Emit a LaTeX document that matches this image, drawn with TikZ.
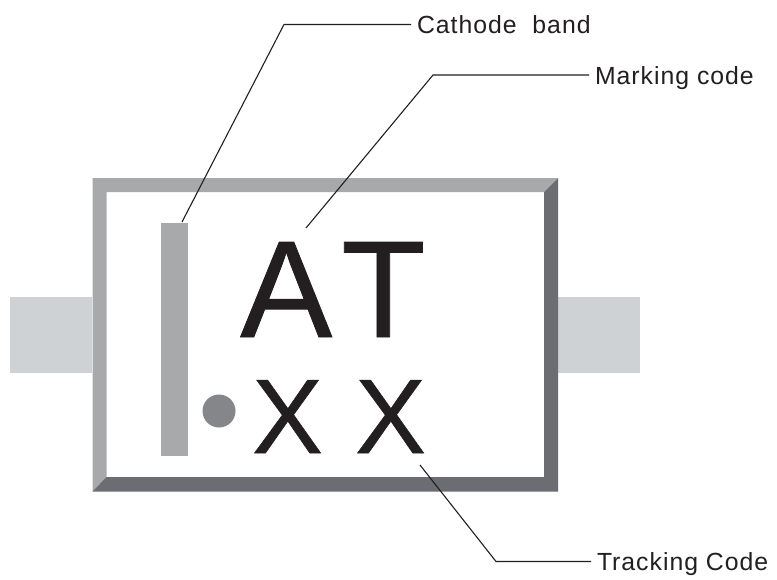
\documentclass[tikz,border=0pt]{standalone}
\usepackage{fontspec}
\setmainfont{Liberation Sans}
\newfontfamily\labelfont[LetterSpace=4]{Liberation Sans}
\newfontfamily\glyphfont[FakeBold=0.6]{Liberation Sans}
\definecolor{framelight}{HTML}{A8A9AB}
\definecolor{framedark}{HTML}{6C6D72}
\definecolor{leadgray}{HTML}{CFD2D4}
\definecolor{dotgray}{HTML}{85868A}
\definecolor{inkblack}{HTML}{231F20}
\begin{document}
\begin{tikzpicture}[x=1pt, y=-1pt]
  \tikzstyle{lead}=[draw=none, fill=leadgray, minimum width=82pt, minimum height=76pt, inner sep=0pt]
  \tikzstyle{glyph}=[text=inkblack, inner sep=0pt, anchor=base west]
  \tikzstyle{callout}=[text=inkblack, inner sep=0pt, outer sep=6pt, anchor=west, text height=18pt, text depth=0pt, font=\labelfont\fontsize{24.8}{28}\selectfont]
  \tikzstyle{leader}=[draw=inkblack, line width=1.1pt]
  \fill [white] (0, 0) rectangle (777, 579);
  \useasboundingbox (0, 0) rectangle (777, 579);

  \node[lead] (leadleft) at (51, 335) {};
  \node[lead] (leadright) at (599, 335) {};

  \fill [framelight] (92.5, 178) -- (558, 178) -- (544, 192) -- (106.5, 192) -- (106.5, 477) -- (92.5, 491.5) -- cycle;
  \fill [framedark] (558, 178) -- (558, 491.5) -- (92.5, 491.5) -- (106.5, 477) -- (544, 477) -- (544, 192) -- cycle;

  \node[draw=none, fill=framelight, minimum width=27pt, minimum height=233pt, inner sep=0pt] (band) at (174.5, 339.5) {};
  \node[circle, fill=dotgray, minimum size=33pt, inner sep=0pt] (dot) at (219, 411) {};

  \node[glyph, font=\glyphfont\fontsize{138}{138}\selectfont] (code) at (240, 337) {A\kern9pt T};
  \node[glyph, font=\glyphfont\fontsize{106}{106}\selectfont] (trackfirst) at (252, 453) {X};
  \node[glyph, font=\glyphfont\fontsize{106}{106}\selectfont] (tracksecond) at (355, 453) {X};

  \node[callout] (cathode) at (411, 24.5) {Cathode\ \ band};
  \node[callout] (marking) at (589, 75) {Marking code};
  \node[callout] (tracking) at (591, 561.5) {Tracking Code};

  \coordinate (bendcathode) at (284, 24.5);
  \coordinate (bendmarking) at (433, 75);
  \coordinate (bendtracking) at (496, 561.5);
  \coordinate (tipcathode) at (182, 222);
  \coordinate (tipmarking) at (306, 228);
  \coordinate (tiptracking) at (420, 465);

  \draw[leader] (tipcathode) -- (bendcathode) -- (cathode.west);
  \draw[leader] (tipmarking) -- (bendmarking) -- (marking.west);
  \draw[leader] (tiptracking) -- (bendtracking) -- (tracking.west);
\end{tikzpicture}
\end{document}
